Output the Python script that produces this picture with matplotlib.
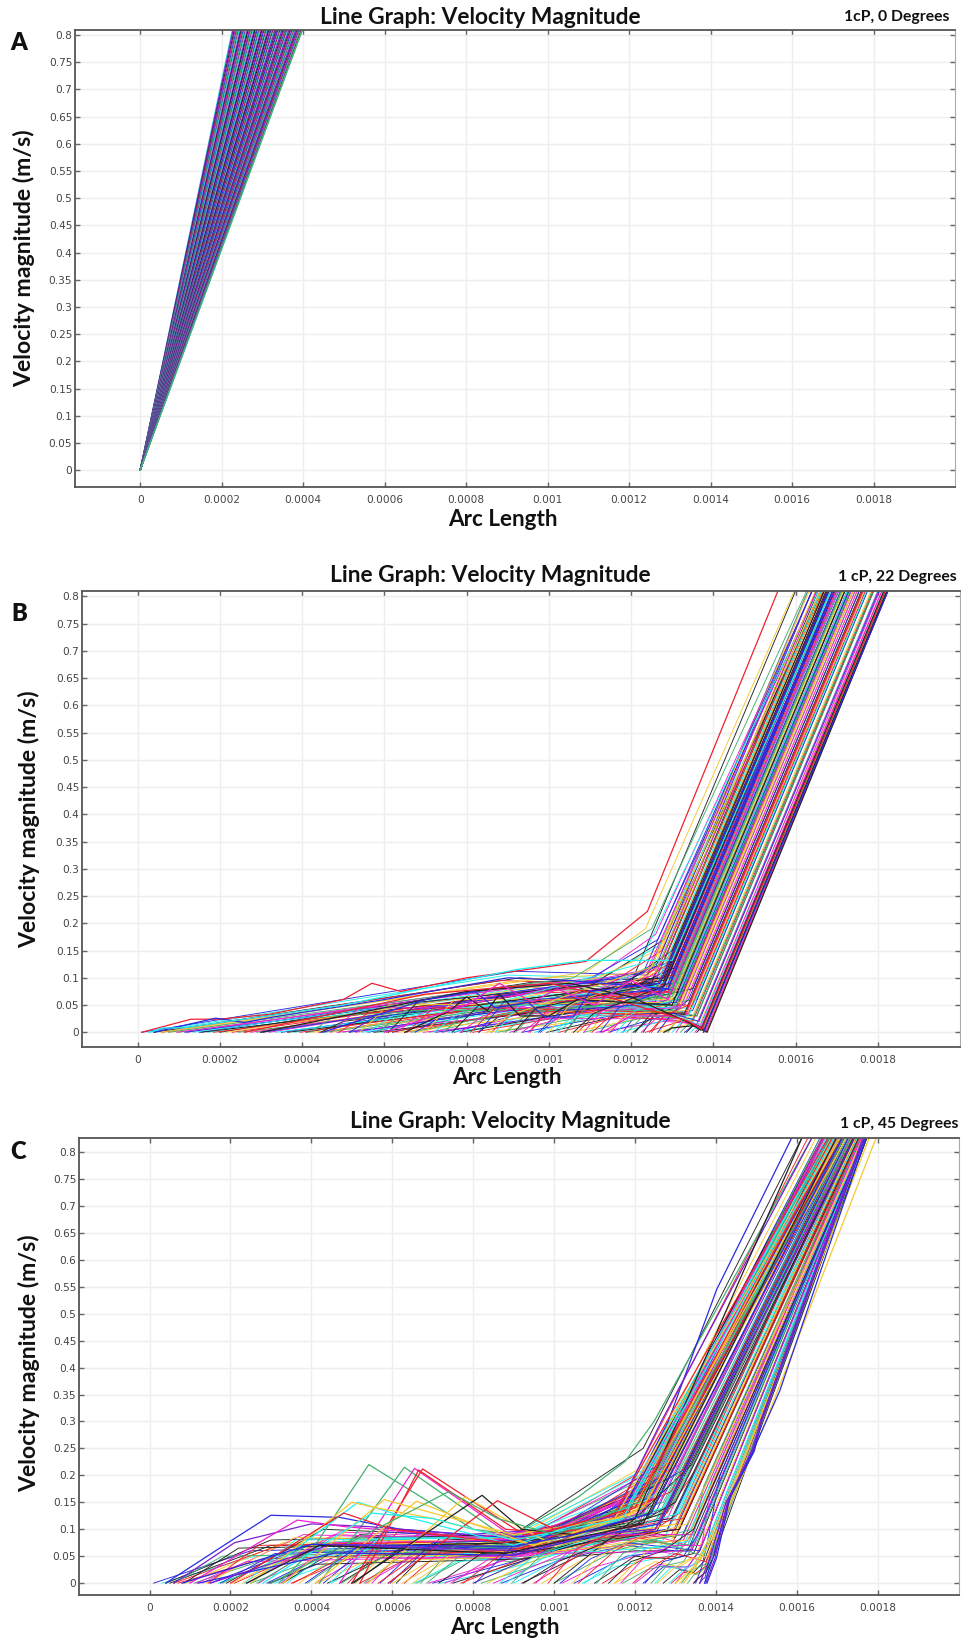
import matplotlib
matplotlib.use('Agg')
import matplotlib.pyplot as plt
import numpy as np

fig_w = 961
fig_h = 1643

titles = ['Line Graph: Velocity Magnitude'] * 3
notes = ['1cP, 0 Degrees', '1 cP, 22 Degrees', '1 cP, 45 Degrees']
panel_letters = ['A', 'B', 'C']
x_ticks = [0, 0.0002, 0.0004, 0.0006, 0.0008, 0.001, 0.0012, 0.0014, 0.0016, 0.0018]
x_tick_labels = ['0', '0.0002', '0.0004', '0.0006', '0.0008', '0.001', '0.0012', '0.0014', '0.0016', '0.0018']
y_ticks = [0, 0.05, 0.1, 0.15, 0.2, 0.25, 0.3, 0.35, 0.4, 0.45, 0.5, 0.55, 0.6, 0.65, 0.7, 0.75, 0.8]
y_tick_labels = ['0', '0.05', '0.1', '0.15', '0.2', '0.25', '0.3', '0.35', '0.4', '0.45', '0.5', '0.55', '0.6', '0.65', '0.7', '0.75', '0.8']
line_colors = ['#2a2ae0', '#44b070', '#f02030', '#20f0f0', '#f020d0', '#f8c830', '#222222', '#7a1fd0']
fan_colors = ['#20e0e0', '#7a1fd0', '#222222', '#d02090', '#2a2ae0', '#44b070', '#902060']

# arc length is in micrometres below, velocity in m/s

# panel A: straight lines out of the origin, x where each one leaves the top
a_top = [226, 228, 231, 233, 236, 238, 241, 243, 246, 248, 250, 253, 255, 258, 260, 263, 265, 268, 270, 272, 275, 277, 280, 282, 285, 287, 290, 292, 294, 297, 299, 302, 304, 307, 309, 312, 314, 316, 319, 321,
         324, 326, 329, 331, 334, 336, 338, 341, 343, 346, 348, 351, 353, 356, 358, 360, 363, 365, 368, 370, 373, 375, 378, 380, 382, 385, 387, 390, 392, 395, 398]

# panel B: start, first bend, knee, x where the line leaves the top
b_x0 = [10, 25, 40, 60, 80, 100, 120, 150, 170, 200, 230, 260, 290, 320, 350, 380, 410, 440, 470, 500, 530, 560, 590, 620, 650, 680, 710, 740, 770, 800,
        830, 860, 890, 920, 950, 980, 1010, 1040, 1070, 1100, 1130, 1150, 1180, 1210, 1230, 1250, 1270, 1290, 1310, 1330, 1345, 1360, 1380,
        55, 75, 95, 115, 135, 155, 185, 215, 245, 275, 305, 335, 365, 395, 425, 455, 485, 515, 545, 575, 605, 635, 665, 695, 725, 755, 785, 815, 845, 875, 905, 935, 965, 995, 1025, 1055, 1085, 1115, 1145, 1175, 1205, 1235, 1265]
b_x1 = [920, 900, 930, 880, 950, 1000, 900, 950, 1020, 960, 900, 1050, 980, 1100, 920, 1000, 1060, 950, 1120, 1000, 900, 1040, 960, 1080, 1000, 860, 1040, 950, 1100, 1020,
        880, 920, 950, 980, 1010, 1040, 1060, 1090, 1110, 1140, 1200, 1190, 1220, 1240, 1260, 1280, 1300, 1310, 1330, 1350, 1355, 1368, 1381,
        1090, 1060, 1110, 1080, 1130, 1100, 1150, 1120, 1160, 1140, 1170, 1100, 1180, 1190, 1150, 1130, 1180, 1090, 1200, 1110, 1160, 1140, 1210, 1120, 1200, 1170, 1230, 1120, 1190, 1250, 1200, 1150, 1260, 1230, 1280, 1250, 1300, 1280, 1300, 1320, 1290, 1320, 1340]
b_y1 = [.112, .105, .100, .095, .098, .090, .085, .088, .085, .092, .070, .080, .075, .095, .060, .070, .085, .055, .090, .060, .045, .065, .040, .075, .050, .030, .055, .030, .070, .045,
        .030, .040, .035, .050, .045, .040, .030, .050, .030, .040, .030, .035, .040, .025, .035, .030, .040, .020, .025, .012, .008, .006, .001,
        .110, .100, .100, .090, .100, .085, .090, .100, .080, .090, .100, .070, .075, .080, .060, .070, .050, .060, .070, .050, .060, .045, .080, .035, .050, .040, .060, .040, .030, .050, .060, .030, .060, .040, .050, .030, .040, .020, .035, .030, .050, .020, .015]
b_x2 = [1240, 1270, 1200, 1290, 1250, 1300, 1220, 1280, 1240, 1300, 1260, 1310, 1230, 1280, 1270, 1320, 1250, 1290, 1330, 1260, 1300, 1240, 1280, 1310, 1270, 1320, 1290, 1250, 1330, 1300,
        1240, 1310, 1280, 1260, 1320, 1300, 1340, 1280, 1310, 1260, 1300, 1330, 1290, 1350, 1310, 1330, 1340, 1360, 1370, 1375, 1370, 1378, 1385,
        1235, 1250, 1260, 1265, 1270, 1280, 1275, 1290, 1295, 1285, 1300, 1270, 1310, 1300, 1270, 1320, 1290, 1260, 1310, 1300, 1280, 1250, 1330, 1320, 1290, 1340, 1350, 1300, 1330, 1360, 1320, 1350, 1340, 1360, 1350, 1370, 1360, 1370, 1340, 1365, 1335, 1375, 1375]
b_y2 = [.105, .098, .090, .085, .110, .075, .070, .090, .060, .100, .080, .060, .085, .050, .065, .070, .040, .100, .055, .035, .080, .075, .045, .090, .055, .050, .070, .050, .080, .040,
        .060, .075, .035, .095, .060, .110, .045, .085, .040, .070, .030, .050, .060, .020, .045, .030, .050, .015, .010, .005, .004, .002, .005,
        .190, .190, .180, .170, .160, .170, .150, .160, .140, .120, .130, .130, .120, .105, .100, .090, .120, .120, .100, .150, .130, .120, .110, .120, .090, .100, .080, .130, .070, .060, .080, .040, .030, .030, .050, .020, .030, .015, .060, .020, .090, .010, .005]
b_xt = [1640, 1665, 1600, 1692, 1640, 1710, 1630, 1680, 1660, 1695, 1665, 1725, 1630, 1705, 1685, 1730, 1680, 1690, 1750, 1690, 1705, 1650, 1705, 1710, 1690, 1745, 1700, 1675, 1735, 1730,
        1655, 1720, 1715, 1660, 1740, 1690, 1765, 1680, 1740, 1670, 1735, 1750, 1710, 1790, 1735, 1765, 1760, 1800, 1815, 1822, 1818, 1822, 1824,
        1597, 1627, 1641, 1652, 1662, 1665, 1668, 1680, 1690, 1680, 1695, 1650, 1695, 1695, 1665, 1720, 1675, 1640, 1705, 1670, 1660, 1633, 1720, 1705, 1690, 1735, 1755, 1680, 1740, 1775, 1725, 1775, 1770, 1790, 1765, 1810, 1790, 1805, 1755, 1800, 1730, 1815, 1820]

# panel B: the steep short rises off the baseline
b_f_x0 = [420, 445, 470, 490, 515, 540, 560, 585, 610, 630, 655, 675, 700, 720, 745, 765, 785, 810, 830, 850, 870, 895, 915, 935, 955, 975, 1000, 1020, 1040, 1060, 1085, 1105, 1125, 1145, 1165, 1190, 1210, 1225, 1245, 1265, 1285, 1300, 1320, 1335, 1355]
b_f_x1 = [480, 500, 540, 560, 570, 610, 620, 650, 680, 690, 720, 730, 770, 780, 800, 830, 840, 870, 890, 900, 930, 950, 970, 980, 1010, 1030, 1050, 1070, 1090, 1110, 1130, 1150, 1170, 1190, 1210, 1230, 1250, 1260, 1280, 1300, 1310, 1330, 1340, 1355, 1370]
b_f_y1 = [.030, .020, .045, .035, .025, .050, .030, .040, .055, .035, .045, .025, .060, .035, .040, .050, .030, .045, .055, .030, .050, .035, .045, .025, .055, .040, .050, .030, .045, .035, .040, .030, .045, .035, .040, .030, .035, .025, .030, .035, .020, .025, .015, .015, .012]
b_f_x2 = [1290, 1250, 1310, 1270, 1230, 1320, 1260, 1300, 1280, 1240, 1330, 1270, 1300, 1220, 1310, 1280, 1260, 1340, 1290, 1250, 1320, 1300, 1270, 1330, 1290, 1310, 1260, 1340, 1300, 1280, 1320, 1350, 1290, 1340, 1310, 1350, 1330, 1360, 1340, 1365, 1350, 1370, 1375, 1378, 1382]
b_f_y2 = [.065, .090, .045, .075, .110, .055, .085, .040, .100, .115, .030, .070, .060, .125, .050, .095, .105, .035, .080, .120, .045, .065, .090, .025, .075, .055, .110, .030, .070, .085, .045, .020, .080, .040, .060, .025, .035, .015, .050, .020, .030, .012, .008, .006, .004]
b_f_xt = [1703, 1650, 1735, 1678, 1640, 1739, 1662, 1727, 1674, 1650, 1763, 1681, 1716, 1655, 1732, 1677, 1651, 1770, 1695, 1660, 1745, 1713, 1670, 1766, 1698, 1729, 1648, 1773, 1711, 1682, 1745, 1788, 1695, 1767, 1726, 1786, 1760, 1801, 1762, 1803, 1783, 1814, 1820, 1822, 1825]

# panel B: lines with a shape of their own
b_extra_x = [[10, 130, 200, 320, 500, 570, 640, 800, 1090, 1240, 1568],
             [40, 190, 260, 330, 600, 900, 1050, 1290, 1690],
             [30, 60, 110, 500, 920, 1090, 1300, 1685],
             [1280, 1300, 1350, 1375, 1385, 1824],
             [1130, 1200, 1300, 1340, 1365, 1370, 1810],
             [300, 800, 1050, 1200, 1340, 1370, 1815],
             [260, 700, 1000, 1120, 1340, 1372, 1818],
             [650, 760, 800, 850, 880, 930, 1000, 1070, 1300, 1720],
             [450, 700, 820, 870, 950, 990, 1060, 1100, 1270, 1680],
             [600, 800, 880, 960, 1020, 1110, 1200, 1290, 1700],
             [1376, 1825]]
b_extra_y = [[0, .024, .024, .033, .060, .090, .075, .100, .130, .222, .83],
             [0, .026, .018, .028, .060, .100, .095, .080, .81],
             [0, .008, .008, .050, .115, .132, .132, .81],
             [0, .008, .012, .005, 0, .81],
             [0, .030, .030, .020, .010, .005, .81],
             [0, .075, .090, .065, .018, .004, .81],
             [0, .070, .090, .070, .020, .005, .81],
             [0, .040, .065, .040, .070, .030, .030, .060, .050, .81],
             [0, .060, .075, .045, .055, .028, .028, .075, .090, .81],
             [0, .050, .090, .055, .080, .050, .095, .060, .81],
             [0, .81]]
b_extra_colors = [2, 0, 3, 6, 4, 6, 2, 6, 0, 4, 0]

# panel C: start, plateau, neck, knee, x where the line leaves the top
c_x0 = [10, 30, 50, 70, 90, 110, 130, 150, 170, 190, 210, 230, 250, 270, 290, 310, 330, 350, 370, 390, 410, 430, 450, 470, 490, 510, 530, 550, 570, 590, 610, 630, 650, 670,
        690, 700, 720, 750, 770, 800, 820, 850, 870, 900, 920, 950, 970, 1000, 1020, 1050, 1070, 1100, 1120, 1150, 1170, 1200, 1220, 1250, 1270, 1290, 1310, 1330, 1345, 1360, 1372,
        40, 60, 140, 180, 240, 300, 340, 440, 520, 600, 660, 730, 800, 880, 1000, 1060, 1150, 1240, 1300, 1350]
c_x1 = [250, 260, 300, 280, 330, 350, 380, 400, 360, 430, 420, 440, 450, 470, 480, 500, 520, 540, 500, 560, 520, 580, 600, 590, 620, 610, 640, 660, 670, 680, 720, 730, 750, 760,
        1000, 950, 900, 1000, 1020, 1050, 980, 1040, 1020, 1080, 1060, 1100, 1120, 1150, 1100, 1180, 1150, 1200, 1220, 1250, 1230, 1260, 1270, 1290, 1310, 1320, 1335, 1345, 1355, 1368, 1376,
        300, 320, 360, 410, 455, 510, 480, 610, 700, 780, 850, 900, 980, 1020, 1100, 1150, 1230, 1300, 1340, 1365]
c_y1 = [.060, .050, .070, .045, .075, .060, .090, .072, .050, .100, .070, .085, .055, .095, .070, .050, .090, .060, .075, .085, .048, .095, .070, .055, .100, .080, .060, .090, .070, .050, .085, .065, .050, .075,
        .070, .050, .030, .060, .075, .080, .040, .060, .045, .070, .050, .070, .065, .060, .030, .050, .030, .050, .045, .040, .025, .035, .030, .030, .025, .020, .020, .015, .010, .008, .005,
        .080, .070, .085, .075, .090, .065, .080, .060, .070, .080, .070, .050, .060, .070, .060, .060, .060, .050, .040, .030]
c_x2 = [800, 850, 820, 880, 900, 860, 840, 900, 860, 880, 920, 800, 870, 900, 890, 850, 920, 900, 880, 910, 870, 930, 900, 880, 940, 920, 890, 950, 900, 920, 960, 930, 940, 970,
        1150, 1100, 1080, 1200, 1180, 1220, 1150, 1240, 1180, 1230, 1200, 1250, 1260, 1270, 1250, 1290, 1280, 1290, 1300, 1310, 1320, 1320, 1330, 1340, 1345, 1350, 1355, 1360, 1365, 1373, 1380,
        900, 920, 880, 930, 910, 940, 900, 950, 960, 990, 1000, 1050, 1100, 1150, 1200, 1250, 1290, 1340, 1365, 1380]
c_y2 = [.070, .075, .065, .060, .070, .050, .080, .065, .055, .085, .070, .070, .050, .080, .065, .055, .075, .050, .070, .060, .045, .080, .060, .050, .070, .065, .040, .080, .055, .045, .075, .060, .050, .070,
        .110, .080, .070, .100, .090, .100, .070, .090, .070, .090, .060, .100, .065, .085, .060, .060, .050, .045, .050, .030, .040, .025, .030, .020, .020, .018, .015, .020, .012, .010, .020,
        .090, .080, .075, .090, .080, .070, .085, .080, .070, .090, .100, .110, .120, .120, .120, .100, .080, .070, .070, .080]
c_x3 = [1180, 1190, 1170, 1210, 1200, 1220, 1160, 1230, 1190, 1180, 1240, 1150, 1200, 1210, 1250, 1220, 1170, 1260, 1230, 1240, 1190, 1200, 1270, 1250, 1210, 1260, 1280, 1220, 1240, 1270, 1230, 1290, 1250, 1280,
        1260, 1280, 1300, 1300, 1290, 1310, 1320, 1330, 1300, 1280, 1330, 1310, 1320, 1340, 1330, 1340, 1320, 1345, 1340, 1350, 1345, 1360, 1360, 1365, 1370, 1372, 1375, 1380, 1385, 1392, 1400,
        1220, 1200, 1230, 1240, 1250, 1260, 1240, 1270, 1280, 1290, 1300, 1310, 1320, 1330, 1340, 1350, 1360, 1370, 1390, 1410]
c_y3 = [.130, .140, .110, .120, .150, .130, .120, .140, .100, .140, .150, .100, .090, .160, .130, .100, .130, .120, .170, .100, .085, .120, .140, .090, .150, .110, .100, .130, .160, .080, .120, .090, .100, .130,
        .150, .100, .120, .085, .070, .110, .090, .070, .060, .150, .060, .130, .080, .100, .050, .060, .070, .055, .090, .050, .070, .040, .060, .050, .040, .030, .030, .035, .040, .070, .100,
        .250, .200, .220, .200, .210, .220, .180, .200, .220, .210, .200, .220, .210, .200, .220, .210, .200, .180, .190, .200]
c_xt = [1660, 1670, 1680, 1690, 1672, 1695, 1675, 1700, 1705, 1665, 1705, 1690, 1710, 1680, 1720, 1715, 1668, 1730, 1695, 1735, 1715, 1690, 1725, 1740, 1700, 1735, 1745, 1705, 1710, 1750, 1720, 1755, 1745, 1735,
        1715, 1745, 1730, 1750, 1755, 1745, 1760, 1765, 1760, 1720, 1770, 1735, 1755, 1755, 1770, 1768, 1760, 1770, 1755, 1772, 1765, 1775, 1770, 1772, 1774, 1772, 1773, 1774, 1775, 1775, 1772,
        1615, 1630, 1650, 1660, 1665, 1670, 1675, 1682, 1690, 1695, 1705, 1710, 1720, 1728, 1735, 1742, 1750, 1758, 1762, 1768]

# panel C: the short rises off the baseline
c_f_x0 = [60, 85, 115, 145, 175, 205, 235, 265, 295, 325, 355, 385, 415, 445, 475, 505, 535, 565, 595, 625, 655, 685, 715, 745, 775, 805, 835, 865, 895, 925, 955, 985, 1015, 1045, 1075, 1105, 1135, 1165, 1195, 1225, 1255, 1285, 1315, 1345]
c_f_x1 = [180, 220, 240, 270, 310, 330, 360, 400, 410, 450, 480, 510, 530, 570, 590, 630, 640, 680, 700, 740, 760, 790, 820, 840, 880, 900, 930, 950, 980, 1010, 1030, 1060, 1090, 1110, 1140, 1170, 1190, 1220, 1240, 1270, 1300, 1320, 1340, 1365]
c_f_y1 = [.050, .065, .040, .070, .055, .045, .080, .060, .035, .075, .050, .065, .040, .085, .055, .070, .045, .060, .075, .050, .040, .065, .055, .045, .060, .070, .035, .050, .060, .040, .055, .065, .045, .050, .035, .055, .040, .045, .030, .040, .030, .025, .025, .015]
c_f_x2 = [860, 900, 880, 920, 850, 890, 910, 870, 930, 900, 880, 920, 950, 890, 930, 910, 960, 900, 940, 970, 930, 990, 950, 1000, 1020, 1040, 1010, 1060, 1080, 1110, 1130, 1160, 1180, 1210, 1230, 1250, 1270, 1290, 1300, 1320, 1335, 1345, 1360, 1375]
c_f_y2 = [.060, .075, .050, .080, .065, .055, .085, .070, .045, .080, .060, .065, .050, .085, .070, .075, .055, .060, .080, .065, .050, .075, .060, .055, .080, .090, .060, .075, .085, .070, .090, .100, .075, .085, .065, .080, .060, .070, .055, .050, .045, .035, .030, .020]
c_f_x3 = [1230, 1250, 1280, 1260, 1300, 1240, 1210, 1290, 1270, 1230, 1310, 1250, 1300, 1220, 1270, 1290, 1320, 1260, 1240, 1300, 1330, 1280, 1310, 1340, 1290, 1270, 1330, 1310, 1350, 1300, 1340, 1320, 1360, 1330, 1350, 1370, 1345, 1365, 1375, 1355, 1380, 1370, 1385, 1395]
c_f_y3 = [.16, .18, .12, .19, .10, .15, .20, .14, .13, .17, .10, .18, .09, .21, .15, .12, .08, .16, .19, .11, .07, .14, .10, .06, .17, .20, .08, .13, .07, .15, .09, .12, .06, .11, .08, .05, .10, .07, .04, .09, .05, .06, .04, .05]
c_f_xt = [1700, 1712, 1735, 1720, 1745, 1705, 1690, 1740, 1725, 1700, 1750, 1710, 1748, 1685, 1725, 1742, 1762, 1718, 1702, 1748, 1768, 1735, 1755, 1770, 1730, 1715, 1765, 1752, 1772, 1745, 1772, 1758, 1773, 1768, 1773, 1774, 1772, 1773, 1775, 1770, 1775, 1773, 1775, 1775]

# panel C: peaked lines, the outliers left of the rise, the right edge
c_extra_x = [[320, 400, 542, 800, 900, 1060, 1176, 1247, 1640],
             [420, 630, 870, 1000, 1190, 1685],
             [470, 655, 900, 1060, 1200, 1695],
             [500, 675, 925, 1080, 1210, 1700],
             [520, 665, 880, 1040, 1220, 1710],
             [40, 200, 300, 470, 620, 880, 1000, 1180, 1282, 1402, 1590],
             [60, 210, 400, 540, 780, 1000, 1150, 1265, 1640],
             [100, 365, 480, 800, 1000, 1200, 1670],
             [250, 515, 600, 800, 900, 1180, 1680],
             [250, 500, 560, 700, 950, 1200, 1690],
             [330, 580, 700, 900, 1150, 1700],
             [410, 660, 800, 950, 1190, 1710],
             [540, 780, 900, 1000, 1220, 1725],
             [500, 600, 822, 920, 1050, 1200, 1615],
             [590, 860, 1000, 1200, 1690],
             [200, 480, 600, 880, 1150, 1680],
             [280, 550, 700, 900, 1170, 1695],
             [300, 740, 860, 1000, 1210, 1720],
             [80, 400, 900, 1050, 1240, 1715],
             [120, 460, 900, 1050, 1260, 1730],
             [150, 450, 920, 1100, 1250, 1745],
             [240, 420, 880, 1060, 1220, 1700],
             [1300, 1345, 1410, 1505, 1781],
             [1320, 1350, 1420, 1523, 1798],
             [1360, 1385, 1425, 1490, 1510, 1765],
             [1372, 1392, 1432, 1495, 1513, 1770],
             [1378, 1402, 1435, 1492, 1558, 1773],
             [1375, 1398, 1430, 1488, 1512, 1768]]
c_extra_y = [[0, .060, .220, .100, .090, .160, .226, .300, .83],
             [0, .215, .090, .080, .150, .83],
             [0, .213, .085, .110, .170, .83],
             [0, .212, .090, .100, .160, .83],
             [0, .210, .100, .090, .140, .83],
             [0, .078, .126, .122, .100, .085, .090, .150, .300, .545, .83],
             [0, .075, .110, .105, .090, .100, .125, .300, .83],
             [0, .117, .105, .085, .100, .160, .83],
             [0, .150, .130, .090, .070, .140, .83],
             [0, .150, .140, .120, .070, .130, .83],
             [0, .155, .130, .090, .120, .83],
             [0, .152, .110, .070, .130, .83],
             [0, .160, .110, .070, .140, .83],
             [0, .050, .163, .100, .090, .120, .83],
             [0, .153, .100, .140, .83],
             [0, .130, .100, .075, .130, .83],
             [0, .130, .120, .080, .120, .83],
             [0, .170, .120, .090, .150, .83],
             [0, .072, .068, .090, .130, .83],
             [0, .056, .052, .080, .110, .83],
             [0, .072, .060, .090, .100, .83],
             [0, .070, .055, .085, .110, .83],
             [0, .030, .120, .300, .83],
             [0, .030, .120, .300, .83],
             [0, .045, .150, .240, .300, .83],
             [0, .045, .155, .245, .300, .83],
             [0, .048, .160, .246, .357, .83],
             [0, .047, .155, .245, .300, .83]]
c_extra_colors = [1, 1, 4, 2, 2, 0, 7, 4, 3, 5, 5, 5, 5, 6, 2, 2, 3, 1, 0, 0, 7, 6, 5, 5, 7, 0, 0, 7]

plt.rcParams['font.family'] = ['DejaVu Sans']
fig = plt.figure(figsize=(fig_w / 100, fig_h / 100), dpi=100)

def px_x(x):
    return x / fig_w

def px_y(y):
    return 1 - y / fig_h

def make_axes(left, right, top, bottom, xlim, ylim):
    ax = fig.add_axes([px_x(left), px_y(bottom), (right - left) / fig_w, (bottom - top) / fig_h])
    ax.set_xlim(*xlim)
    ax.set_ylim(*ylim)
    ax.set_xticks(x_ticks)
    ax.set_xticklabels(x_tick_labels)
    ax.set_yticks(y_ticks)
    ax.set_yticklabels(y_tick_labels)
    ax.tick_params(direction='in', top=True, right=True, length=3.5, width=1, color='#666666', labelsize=7.6, labelcolor='#444444')
    ax.tick_params(axis='x', pad=6)
    ax.tick_params(axis='y', pad=2)
    ax.grid(True, color='#eeeeee', linewidth=1.0)
    ax.set_axisbelow(True)
    for s in ['top', 'left', 'bottom']:
        ax.spines[s].set_color('#555555')
        ax.spines[s].set_linewidth(1.3)
    ax.spines['right'].set_color('#aaaaaa')
    ax.spines['right'].set_linewidth(0.8)
    return ax

ax_a = make_axes(75, 955, 30, 487, (-0.00016, 0.00200), (-0.031, 0.809))
ax_b = make_axes(82, 960, 591, 1047, (-0.000135, 0.00200), (-0.027, 0.81))
ax_c = make_axes(79, 959, 1138, 1595, (-0.0001745, 0.002001), (-0.022, 0.826))

# cyan on the left edge of the fan, green on the right edge, the rest mixes dark
for i in range(len(a_top)):
    ax_a.plot(np.array([0, a_top[i]]) / 1e6, [0, 0.809], color=fan_colors[i % 7], lw=0.85)
ax_a.plot(np.array([0, a_top[-1]]) / 1e6, [0, 0.809], color=line_colors[1], lw=0.9)

for i in range(len(b_x0)):
    xs = np.array([b_x0[i], b_x1[i], b_x2[i], b_xt[i]]) / 1e6
    ax_b.plot(xs, [0, b_y1[i], b_y2[i], 0.81], color=line_colors[(i * 3) % 7], lw=0.65)
for i in range(len(b_f_x0)):
    xs = np.array([b_f_x0[i], b_f_x1[i], b_f_x2[i], b_f_xt[i]]) / 1e6
    ax_b.plot(xs, [0, b_f_y1[i], b_f_y2[i], 0.81], color=line_colors[(i * 5 + 1) % 7], lw=0.65)
for i in range(len(b_extra_x)):
    ax_b.plot(np.array(b_extra_x[i]) / 1e6, b_extra_y[i], color=line_colors[b_extra_colors[i]], lw=0.9)

for i in range(len(c_x0)):
    xs = np.array([c_x0[i], c_x1[i], c_x2[i], c_x3[i], c_xt[i]]) / 1e6
    ax_c.plot(xs, [0, c_y1[i], c_y2[i], c_y3[i], 0.83], color=line_colors[(i * 3) % 7], lw=0.65)
for i in range(len(c_f_x0)):
    xs = np.array([c_f_x0[i], c_f_x1[i], c_f_x2[i], c_f_x3[i], c_f_xt[i]]) / 1e6
    ax_c.plot(xs, [0, c_f_y1[i], c_f_y2[i], c_f_y3[i], 0.83], color=line_colors[(i * 5 + 1) % 7], lw=0.65)
for i in range(len(c_extra_x)):
    ax_c.plot(np.array(c_extra_x[i]) / 1e6, c_extra_y[i], color=line_colors[c_extra_colors[i]], lw=0.9)

def label(x, y, s, size, rotation=0, ha='center', weight='bold'):
    fig.text(px_x(x), px_y(y), s, fontsize=size, fontweight=weight, family='Lato', color='#111111', ha=ha, va='center', rotation=rotation)

title_pos = [(480, 18), (490, 576), (510, 1122)]
note_pos = [(950, 17), (957, 577), (958, 1124)]
letter_pos = [(19, 43), (19, 614), (18, 1152)]
ylabel_pos = [(24, 258), (29, 819), (29, 1363)]
xlabel_pos = [(503, 520), (507, 1078), (505, 1628)]

for i in range(3):
    label(title_pos[i][0], title_pos[i][1], titles[i], 16.4)
    label(note_pos[i][0], note_pos[i][1], notes[i], 11.3, ha='right')
    label(letter_pos[i][0], letter_pos[i][1], panel_letters[i], 17, weight='heavy')
    label(ylabel_pos[i][0], ylabel_pos[i][1], 'Velocity magnitude (m/s)', 16.6, rotation=90)
    label(xlabel_pos[i][0], xlabel_pos[i][1], 'Arc Length', 16.2)

fig.savefig('out.png', dpi=100, facecolor='white')
